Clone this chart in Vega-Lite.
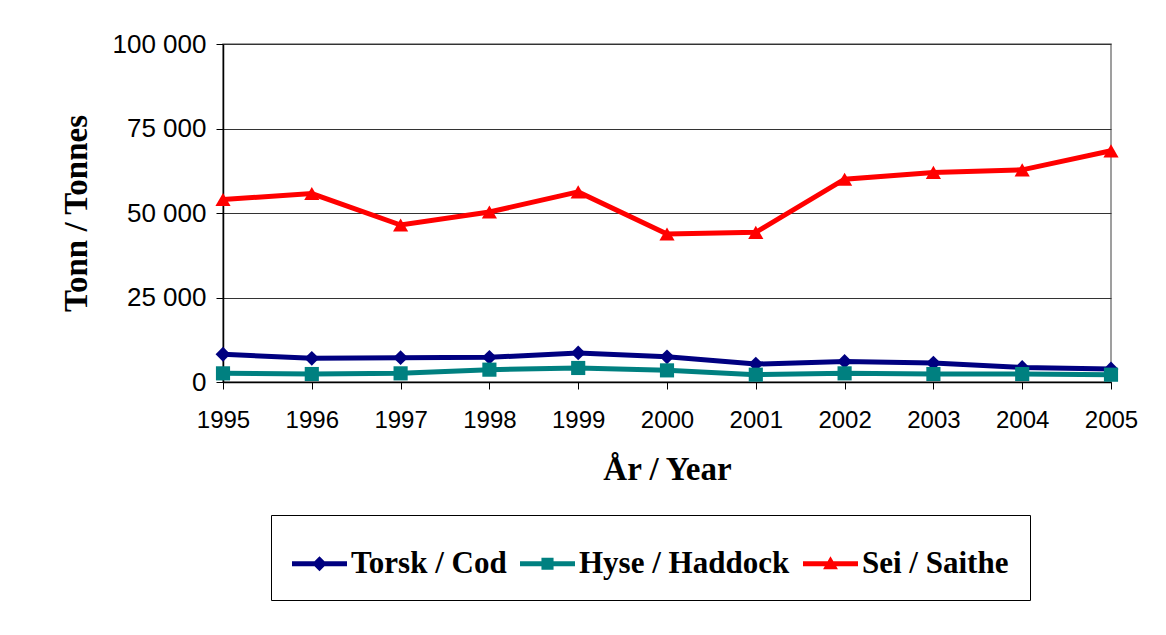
{
  "$schema": "https://vega.github.io/schema/vega-lite/v6.json",
  "width": 888,
  "height": 338,
  "autosize": {"type": "none"},
  "padding": {"left": 223, "top": 44, "right": 55, "bottom": 253},
  "background": "white",
  "config": {
    "locale": {"number": {"decimal": ",", "thousands": " ", "grouping": [3], "currency": ["", ""]}},
    "view": {"stroke": "#808080", "strokeWidth": 1.5},
    "axis": {
      "labelFont": "Liberation Sans",
      "labelFontSize": 24,
      "labelColor": "black",
      "titleFont": "Liberation Serif",
      "titleFontSize": 33,
      "titleFontWeight": "bold",
      "titleColor": "black",
      "domainColor": "black",
      "domainWidth": 1.5,
      "tickColor": "black",
      "tickSize": 7,
      "gridColor": "#333333",
      "gridWidth": 1
    }
  },
  "data": {
    "values": [
      {"year": 1995, "series": "Torsk / Cod", "tonnes": 8200},
      {"year": 1996, "series": "Torsk / Cod", "tonnes": 7000},
      {"year": 1997, "series": "Torsk / Cod", "tonnes": 7200},
      {"year": 1998, "series": "Torsk / Cod", "tonnes": 7300},
      {"year": 1999, "series": "Torsk / Cod", "tonnes": 8600},
      {"year": 2000, "series": "Torsk / Cod", "tonnes": 7450},
      {"year": 2001, "series": "Torsk / Cod", "tonnes": 5300},
      {"year": 2002, "series": "Torsk / Cod", "tonnes": 6100},
      {"year": 2003, "series": "Torsk / Cod", "tonnes": 5600},
      {"year": 2004, "series": "Torsk / Cod", "tonnes": 4300},
      {"year": 2005, "series": "Torsk / Cod", "tonnes": 3850},
      {"year": 1995, "series": "Hyse / Haddock", "tonnes": 2560},
      {"year": 1996, "series": "Hyse / Haddock", "tonnes": 2360},
      {"year": 1997, "series": "Hyse / Haddock", "tonnes": 2560},
      {"year": 1998, "series": "Hyse / Haddock", "tonnes": 3650},
      {"year": 1999, "series": "Hyse / Haddock", "tonnes": 4150},
      {"year": 2000, "series": "Hyse / Haddock", "tonnes": 3440},
      {"year": 2001, "series": "Hyse / Haddock", "tonnes": 2160},
      {"year": 2002, "series": "Hyse / Haddock", "tonnes": 2560},
      {"year": 2003, "series": "Hyse / Haddock", "tonnes": 2360},
      {"year": 2004, "series": "Hyse / Haddock", "tonnes": 2360},
      {"year": 2005, "series": "Hyse / Haddock", "tonnes": 2160},
      {"year": 1995, "series": "Sei / Saithe", "tonnes": 54000},
      {"year": 1996, "series": "Sei / Saithe", "tonnes": 55760},
      {"year": 1997, "series": "Sei / Saithe", "tonnes": 46450},
      {"year": 1998, "series": "Sei / Saithe", "tonnes": 50300},
      {"year": 1999, "series": "Sei / Saithe", "tonnes": 56240},
      {"year": 2000, "series": "Sei / Saithe", "tonnes": 43800},
      {"year": 2001, "series": "Sei / Saithe", "tonnes": 44280},
      {"year": 2002, "series": "Sei / Saithe", "tonnes": 60000},
      {"year": 2003, "series": "Sei / Saithe", "tonnes": 62000},
      {"year": 2004, "series": "Sei / Saithe", "tonnes": 62760},
      {"year": 2005, "series": "Sei / Saithe", "tonnes": 68400}
    ]
  },
  "encoding": {
    "x": {
      "field": "year",
      "type": "quantitative",
      "title": "År / Year",
      "scale": {"domain": [1995, 2005], "nice": false, "zero": false},
      "axis": {
        "values": [1995, 1996, 1997, 1998, 1999, 2000, 2001, 2002, 2003, 2004, 2005],
        "format": "d",
        "grid": false,
        "labelPadding": 19,
        "titlePadding": 21,
        "labelFlush": false,
        "labelOverlap": false
      }
    },
    "y": {
      "field": "tonnes",
      "type": "quantitative",
      "title": "Tonn / Tonnes",
      "scale": {"domain": [0, 100000], "nice": false},
      "axis": {
        "values": [0, 25000, 50000, 75000, 100000],
        "format": ",d",
        "grid": true,
        "labelFontSize": 26,
        "labelPadding": 10,
        "titlePadding": 19
      }
    },
    "color": {
      "field": "series",
      "type": "nominal",
      "sort": ["Torsk / Cod", "Hyse / Haddock", "Sei / Saithe"],
      "scale": {
        "domain": ["Torsk / Cod", "Hyse / Haddock", "Sei / Saithe"],
        "range": ["#000080", "#008080", "#FF0000"]
      },
      "legend": {
        "title": null,
        "orient": "none",
        "direction": "horizontal",
        "legendX": 48,
        "legendY": 471,
        "strokeColor": "black",
        "fillColor": "white",
        "padding": 21,
        "symbolSize": 3025,
        "symbolStrokeWidth": 0,
        "labelFont": "Liberation Serif",
        "labelFontSize": 31,
        "labelFontWeight": "bold",
        "labelColor": "black",
        "labelOffset": 4,
        "labelLimit": 400,
        "columnPadding": 13,
        "encode": {
          "symbols": {
            "update": {
              "shape": {
                "signal": "datum.value === 'Torsk / Cod' ? 'M-1,-0.09L1,-0.09L1,0.09L-1,0.09ZM0,-0.27L0.27,0L0,0.27L-0.27,0Z' : datum.value === 'Hyse / Haddock' ? 'M-1,-0.09L1,-0.09L1,0.09L-1,0.09ZM-0.22,-0.22L0.22,-0.22L0.22,0.22L-0.22,0.22Z' : 'M-1,-0.09L1,-0.09L1,0.09L-1,0.09ZM0,-0.27L0.27,0.2L-0.27,0.2Z'"
              },
              "fill": {"scale": "color", "field": "value"},
              "strokeWidth": {"value": 0}
            }
          }
        }
      }
    }
  },
  "layer": [
    {
      "mark": {"type": "line", "strokeWidth": 5},
      "encoding": {
        "detail": {"field": "series"}
      }
    },
    {
      "transform": [{"filter": "datum.series === 'Torsk / Cod'"}],
      "mark": {"type": "point", "filled": true, "opacity": 1, "size": 220, "shape": "diamond"}
    },
    {
      "transform": [{"filter": "datum.series === 'Hyse / Haddock'"}],
      "mark": {"type": "point", "filled": true, "opacity": 1, "size": 200, "shape": "square"}
    },
    {
      "transform": [{"filter": "datum.series === 'Sei / Saithe'"}],
      "mark": {"type": "point", "filled": true, "opacity": 1, "size": 230, "shape": "triangle-up"}
    }
  ]
}
